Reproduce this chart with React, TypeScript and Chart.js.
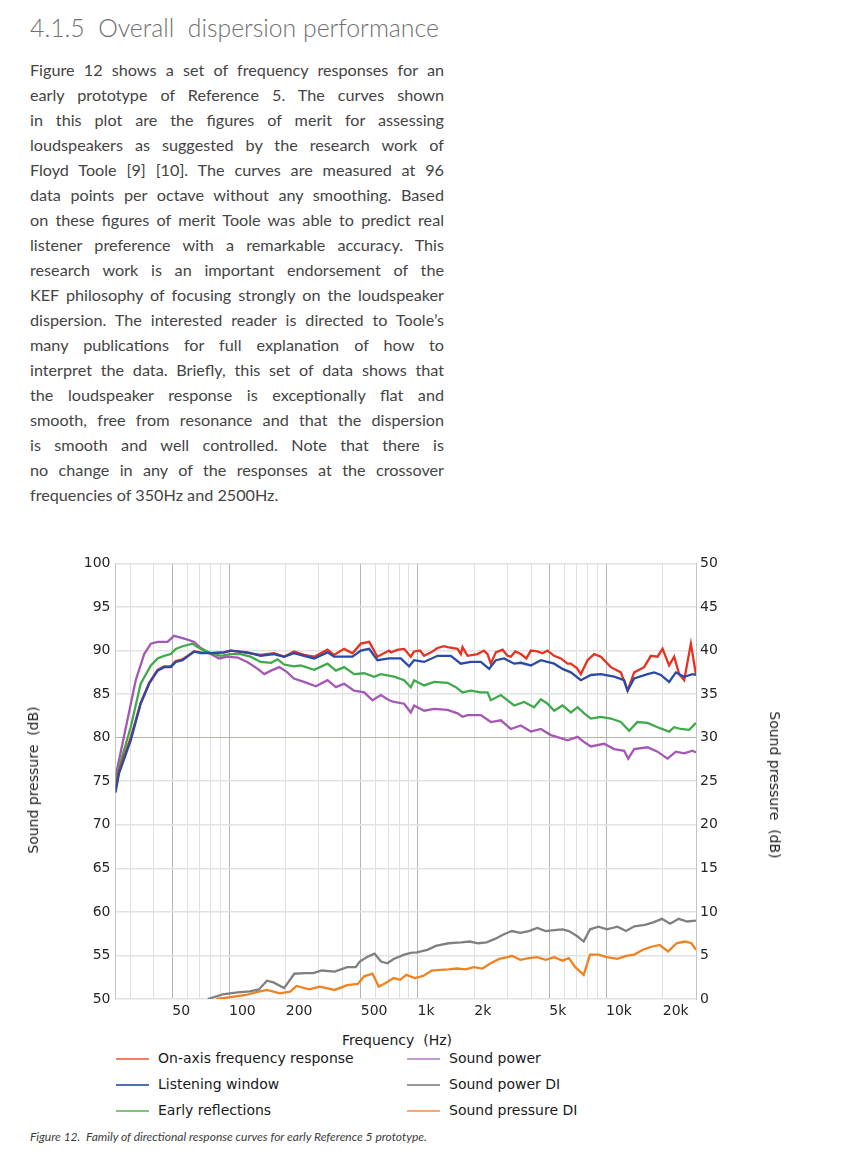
import React, { useEffect, useRef } from "react";
import { Chart, registerables } from "chart.js";

Chart.register(...registerables);

// ---------- text ----------
const headingText = "4.1.5  Overall  dispersion performance";
const bodyLines = [
  "Figure 12 shows a set of frequency responses for an",
  "early prototype of Reference 5. The curves shown",
  "in this plot are the figures of merit for assessing",
  "loudspeakers as suggested by the research work of",
  "Floyd Toole [9] [10]. The curves are measured at 96",
  "data points per octave without any smoothing. Based",
  "on these figures of merit Toole was able to predict real",
  "listener preference with a remarkable accuracy. This",
  "research work is an important endorsement of the",
  "KEF philosophy of focusing strongly on the loudspeaker",
  "dispersion. The interested reader is directed to Toole\u2019s",
  "many publications for full explanation of how to",
  "interpret the data. Briefly, this set of data shows that",
  "the loudspeaker response is exceptionally flat and",
  "smooth, free from resonance and that the dispersion",
  "is smooth and well controlled. Note that there is",
  "no change in any of the responses at the crossover",
  "frequencies of 350Hz and 2500Hz.",
];
const captionText =
  "Figure 12.  Family of directional response curves for early Reference 5 prototype.";
const xTitle = "Frequency  (Hz)";
const yTitle = "Sound pressure  (dB)";

// ---------- axes ----------
const xGridHz = [
  25, 30, 40, 50, 60, 70, 80, 90, 100, 200, 300, 400, 500, 600, 700, 800, 900,
  1000, 2000, 3000, 4000, 5000, 6000, 7000, 8000, 9000, 10000, 20000, 30000,
];
const xLabelHz = [50, 100, 200, 500, 1000, 2000, 5000, 10000, 20000];
const xLabelText = ["50", "100", "200", "500", "1k", "2k", "5k", "10k", "20k"];
const xStrongHz = [50, 100, 500, 1000, 5000, 10000];

// ---------- series ----------
const seriesNames = [
  "On-axis frequency response",
  "Listening window",
  "Early reflections",
  "Sound power",
  "Sound power DI",
  "Sound pressure DI",
];

const onAxisHz = [25, 26.1, 30.1, 34, 37.7, 41.8, 45.3, 49.1, 52.2, 56.7, 60.2, 65.3, 70.9, 80.1, 94.2, 102, 120, 147, 173, 196, 221, 250, 283, 333, 361, 408, 452, 500, 554, 613, 652, 707, 722, 790, 849, 921, 959, 1030, 1084, 1180, 1277, 1384, 1443, 1630, 1697, 1732, 1842, 2082, 2250, 2352, 2448, 2602, 2825, 3000, 3126, 3300, 3532, 3780, 3991, 4331, 4600, 4894, 5305, 5758, 6250, 6505, 7000, 7352, 7980, 8648, 9385, 10604, 11983, 13006, 14098, 15925, 17289, 18750, 19940, 21610, 22980, 24430, 25970, 28180, 30000];
const onAxisDb = [74.2, 76.2, 80.0, 84.0, 86.3, 87.8, 88.2, 88.2, 88.8, 89.0, 89.4, 89.9, 89.8, 89.7, 89.8, 90.0, 89.8, 89.5, 89.7, 89.3, 89.9, 89.5, 89.3, 90.1, 89.5, 90.2, 89.7, 90.8, 91.0, 89.3, 89.6, 90.0, 89.8, 90.1, 90.2, 89.3, 89.9, 90.0, 89.4, 89.8, 90.3, 90.5, 90.4, 90.2, 89.6, 90.4, 89.4, 89.6, 90.0, 89.6, 88.5, 89.8, 90.1, 89.4, 89.3, 89.9, 89.6, 89.1, 90.0, 89.9, 89.7, 90.0, 89.4, 89.1, 88.5, 88.5, 88.0, 87.3, 88.9, 89.6, 89.3, 88.1, 87.5, 85.4, 87.5, 88.1, 89.4, 89.3, 90.2, 88.3, 89.3, 87.3, 86.6, 90.8, 87.2];

const listeningHz = [25, 26.1, 30.1, 34, 37.7, 41.8, 45.3, 49.1, 52.2, 56.7, 60.2, 65.3, 70.9, 80.1, 94.2, 102, 125, 147, 173, 196, 221, 250, 283, 333, 361, 452, 500, 554, 613, 707, 815, 902, 959, 1084, 1277, 1502, 1697, 1918, 2167, 2398, 2602, 2880, 3254, 3532, 3991, 4510, 5305, 5878, 6505, 7352, 8307, 9385, 11040, 12476, 13006, 14098, 16606, 17989, 19529, 21610, 23460, 25970, 28770, 30000];
const listeningDb = [73.7, 75.9, 79.7, 83.9, 86.2, 87.7, 88.1, 88.1, 88.7, 88.9, 89.3, 89.9, 89.7, 89.7, 89.8, 90.0, 89.8, 89.4, 89.6, 89.3, 89.7, 89.4, 89.1, 89.8, 89.3, 89.3, 90.0, 90.2, 88.9, 89.1, 89.1, 88.2, 88.9, 88.7, 89.4, 89.4, 88.5, 88.7, 88.7, 87.9, 88.9, 89.1, 88.5, 88.6, 88.3, 88.9, 88.5, 87.9, 87.5, 86.6, 87.2, 87.3, 87.0, 86.6, 85.4, 86.8, 87.3, 87.5, 87.2, 86.4, 87.5, 87.0, 87.3, 87.2];

const earlyHz = [25, 26.1, 30.1, 34, 38.5, 41.8, 45.3, 49.1, 52.2, 56.7, 64, 68.1, 73.8, 83.4, 90.5, 102, 115, 130, 147, 167, 181, 196, 221, 240, 283, 333, 369, 408, 461, 521, 588, 639, 751, 849, 921, 959, 1084, 1225, 1443, 1597, 1732, 1918, 2167, 2352, 2448, 2767, 3254, 3677, 4156, 4510, 4894, 5305, 5878, 6505, 7061, 7654, 8307, 9385, 10604, 11983, 13262, 14660, 16606, 18750, 21610, 22980, 24940, 27600, 30000];
const earlyDb = [74.9, 76.6, 81.2, 86.2, 88.3, 89.1, 89.4, 89.6, 90.2, 90.5, 90.8, 90.4, 90.0, 89.6, 89.4, 89.6, 89.6, 89.3, 88.7, 88.6, 89.0, 88.4, 88.2, 88.3, 87.8, 88.5, 87.7, 88.1, 87.3, 87.4, 87.0, 87.3, 87.0, 86.6, 85.8, 86.6, 86.0, 86.4, 86.3, 85.8, 85.2, 85.4, 85.2, 85.2, 84.3, 84.9, 83.7, 84.1, 83.5, 84.4, 83.9, 83.1, 83.7, 82.9, 83.5, 82.8, 82.2, 82.4, 82.2, 81.8, 80.8, 81.8, 81.7, 81.2, 80.7, 81.2, 81.0, 80.9, 81.7];

const powerHz = [25, 28.9, 32, 35.5, 38.5, 41.8, 47.2, 51.1, 55.5, 61.4, 65.3, 70.9, 80.1, 88.6, 98.2, 111, 125, 142, 154, 167, 185, 204, 221, 250, 289, 333, 369, 408, 461, 521, 577, 639, 707, 751, 849, 921, 959, 1084, 1225, 1443, 1630, 1732, 1842, 2167, 2448, 2767, 3126, 3532, 3991, 4510, 5096, 5640, 6248, 7061, 7654, 8307, 9770, 11040, 12476, 13101, 14098, 16606, 18750, 21200, 23460, 25970, 28770, 30000];
const powerDb = [75.5, 82.0, 86.6, 89.6, 90.8, 91.0, 91.0, 91.7, 91.5, 91.2, 91.0, 90.3, 89.6, 89.1, 89.3, 89.2, 88.7, 87.9, 87.3, 87.7, 88.1, 87.5, 86.8, 86.4, 85.9, 86.6, 85.8, 86.2, 85.4, 85.2, 84.3, 84.9, 84.3, 84.1, 83.9, 82.9, 83.7, 83.1, 83.3, 83.2, 82.8, 82.4, 82.6, 82.6, 81.8, 82.0, 81.0, 81.4, 80.7, 81.0, 80.3, 80.0, 79.7, 80.1, 79.5, 79.0, 79.3, 78.7, 78.5, 77.6, 78.7, 78.9, 78.4, 77.6, 78.4, 78.2, 78.5, 78.3];

const powerDiHz = [77.2, 92.7, 111, 129, 144, 159, 172, 196, 222, 253, 280, 311, 363, 424, 470, 494, 548, 592, 640, 692, 747, 850, 918, 992, 1128, 1251, 1461, 1705, 1890, 2097, 2323, 2574, 2856, 3164, 3511, 3890, 4315, 4782, 5305, 5878, 6348, 7043, 7607, 8228, 9112, 10100, 11494, 12754, 14130, 16061, 17811, 19770, 21880, 24280, 26900, 30000];
const powerDiDb = [0, 0.54, 0.77, 0.88, 1.1, 2.1, 1.9, 1.25, 2.9, 2.96, 2.96, 3.27, 3.15, 3.65, 3.65, 4.3, 4.9, 5.2, 4.3, 4.1, 4.6, 5.1, 5.3, 5.35, 5.65, 6.1, 6.4, 6.5, 6.6, 6.4, 6.5, 6.9, 7.4, 7.8, 7.6, 7.8, 8.15, 7.8, 7.9, 8.0, 7.8, 7.2, 6.6, 8.0, 8.3, 8.0, 8.3, 7.8, 8.35, 8.5, 8.8, 9.2, 8.65, 9.2, 8.9, 9.0];

const pressureDiHz = [85.6, 100, 123, 144, 159, 186, 211, 228, 266, 303, 363, 424, 482, 521, 577, 623, 674, 747, 808, 872, 968, 1072, 1188, 1318, 1461, 1620, 1795, 1990, 2207, 2445, 2713, 3006, 3164, 3511, 3890, 4315, 4782, 5305, 5878, 6348, 6865, 7607, 8228, 9112, 10100, 11494, 12754, 14130, 15675, 17373, 19245, 21350, 23660, 26220, 28350, 30000];
const pressureDiDb = [0, 0.19, 0.46, 0.85, 1.04, 0.65, 0.85, 1.5, 1.1, 1.42, 1.04, 1.6, 1.73, 2.6, 2.9, 1.42, 1.8, 2.4, 2.2, 2.77, 2.4, 2.65, 3.27, 3.35, 3.4, 3.5, 3.4, 3.65, 3.5, 4.1, 4.6, 4.8, 4.96, 4.5, 4.7, 4.8, 4.5, 4.8, 4.4, 4.7, 3.65, 2.77, 5.1, 5.1, 4.8, 4.6, 4.96, 5.1, 5.65, 6.0, 6.2, 5.46, 6.4, 6.6, 6.4, 5.65];

const lineColors = ["#e6321f", "#2b4aa6", "#3faa4b", "#a457b4", "#808080", "#f0821f"];
const legendColors = ["#f0805f", "#4f6cb6", "#7cc67c", "#c89ad4", "#9a9a9a", "#f8a96b"];

const pts = (hz: number[], db: number[]) => hz.map((f, i) => ({ x: f, y: db[i] }));

const tickFont = { family: "'DejaVu Sans', Verdana, sans-serif", size: 14 };

function FrequencyChart() {
  const ref = useRef<HTMLCanvasElement | null>(null);
  useEffect(() => {
    if (!ref.current) return;
    const mk = (i: number, hz: number[], db: number[], axis: string) => ({
      label: seriesNames[i],
      data: pts(hz, db),
      borderColor: lineColors[i],
      backgroundColor: lineColors[i],
      borderWidth: 2.3,
      pointRadius: 0,
      tension: 0,
      fill: false,
      yAxisID: axis,
    });
    const chart = new Chart(ref.current, {
      type: "line",
      data: {
        datasets: [
          mk(1, listeningHz, listeningDb, "y"),
          mk(0, onAxisHz, onAxisDb, "y"),
          mk(2, earlyHz, earlyDb, "y"),
          mk(3, powerHz, powerDb, "y"),
          mk(4, powerDiHz, powerDiDb, "y2"),
          mk(5, pressureDiHz, pressureDiDb, "y2"),
        ],
      },
      options: {
        animation: false,
        responsive: false,
        maintainAspectRatio: false,
        layout: { padding: { top: 13.5, left: 0, right: 112, bottom: 0 } },
        plugins: { legend: { display: false }, tooltip: { enabled: false } },
        scales: {
          x: {
            type: "logarithmic",
            min: 25,
            max: 30000,
            afterBuildTicks: (axis: any) => {
              axis.ticks = xGridHz.map((v) => ({ value: v }));
            },
            afterFit: (axis: any) => {
              axis.height = 31;
            },
            grid: {
              drawTicks: false,
              lineWidth: 1,
              color: (ctx: any) => {
                const v = ctx.tick ? ctx.tick.value : 0;
                if (v === 25 || v === 30000) return "#c4c4c4";
                return xStrongHz.includes(v) ? "#b4b4b4" : "#e0e0e0";
              },
            },
            border: { display: false },
            ticks: {
              autoSkip: false,
              maxRotation: 0,
              minRotation: 0,
              align: "start",
              padding: 4,
              color: "#262626",
              font: tickFont,
              callback: (v: any) => {
                const i = xLabelHz.indexOf(Number(v));
                return i >= 0 ? xLabelText[i] : "";
              },
            },
          },
          y: {
            type: "linear",
            position: "left",
            min: 50,
            max: 100,
            afterFit: (axis: any) => {
              axis.width = 115.5;
            },
            grid: {
              drawTicks: false,
              color: (ctx: any) => (ctx.tick && ctx.tick.value === 80 ? "#b8b1aa" : "#e2e2e2"),
              lineWidth: (ctx: any) => (ctx.tick && ctx.tick.value === 80 ? 1 : 1.6),
            },
            border: { display: true, color: "#c4c4c4", width: 1 },
            ticks: { stepSize: 5, padding: 5, color: "#262626", font: tickFont },
          },
          y2: {
            type: "linear",
            position: "right",
            min: 0,
            max: 50,
            afterFit: (axis: any) => {
              axis.width = 40;
            },
            grid: { display: false, drawTicks: false },
            border: { display: true, color: "#c4c4c4", width: 1 },
            ticks: { stepSize: 5, padding: 4, color: "#262626", font: tickFont },
          },
        },
      } as any,
    });
    return () => chart.destroy();
  }, []);
  return (
    <canvas
      ref={ref}
      width={848}
      height={480}
      style={{ position: "absolute", left: 0, top: 550, width: 848, height: 480 }}
    />
  );
}

const legendFont = "14px 'DejaVu Sans', Verdana, sans-serif";

export default function App() {
  const legendRows = [0, 1, 2];
  return (
    <div
      style={{
        position: "absolute",
        left: 0,
        top: 0,
        width: 848,
        height: 1167,
        background: "#ffffff",
        overflow: "hidden",
      }}
    >
      <div
        style={{
          position: "absolute",
          left: 30,
          top: 12,
          font: "300 24.8px Lato, sans-serif",
          color: "#707070",
          whiteSpace: "pre",
          lineHeight: "32px",
        }}
      >
        {headingText}
      </div>
      <div style={{ position: "absolute", left: 30, top: 59.5, width: 414 }}>
        {bodyLines.map((t, i) => (
          <div
            key={i}
            style={{
              height: 25,
              lineHeight: "25px",
              font: "16.2px Lato, sans-serif",
              color: "#444444",
              whiteSpace: "nowrap",
              textAlign: i === bodyLines.length - 1 ? "left" : "justify",
              textAlignLast: i === bodyLines.length - 1 ? "left" : "justify",
            }}
          >
            {t}
          </div>
        ))}
      </div>

      <FrequencyChart />

      <div
        style={{
          position: "absolute",
          left: 33,
          top: 780,
          transform: "translate(-50%, -50%) rotate(-90deg)",
          font: legendFont,
          color: "#1a1a1a",
          whiteSpace: "pre",
          lineHeight: "16px",
        }}
      >
        {yTitle}
      </div>
      <div
        style={{
          position: "absolute",
          left: 775,
          top: 785,
          transform: "translate(-50%, -50%) rotate(90deg)",
          font: legendFont,
          color: "#1a1a1a",
          whiteSpace: "pre",
          lineHeight: "16px",
        }}
      >
        {yTitle}
      </div>
      <div
        style={{
          position: "absolute",
          left: 397,
          top: 1040,
          transform: "translate(-50%, -50%)",
          font: legendFont,
          color: "#1a1a1a",
          whiteSpace: "pre",
          lineHeight: "16px",
        }}
      >
        {xTitle}
      </div>

      {legendRows.map((r) =>
        [0, 1].map((c) => {
          const idx = c * 3 + r;
          const lineLeft = c === 0 ? 116 : 407;
          const textLeft = c === 0 ? 158 : 449;
          const cy = 1058 + r * 26;
          return (
            <React.Fragment key={idx}>
              <div
                style={{
                  position: "absolute",
                  left: lineLeft,
                  top: cy,
                  width: 33,
                  height: 2,
                  background: legendColors[idx],
                }}
              />
              <div
                style={{
                  position: "absolute",
                  left: textLeft,
                  top: cy - 9,
                  font: legendFont,
                  color: "#1a1a1a",
                  whiteSpace: "pre",
                  lineHeight: "18px",
                }}
              >
                {seriesNames[idx]}
              </div>
            </React.Fragment>
          );
        })
      )}

      <div
        style={{
          position: "absolute",
          left: 30,
          top: 1129,
          font: "italic 12px Lato, sans-serif",
          color: "#3c3c3c",
          whiteSpace: "pre",
          lineHeight: "16px",
        }}
      >
        {captionText}
      </div>
    </div>
  );
}
